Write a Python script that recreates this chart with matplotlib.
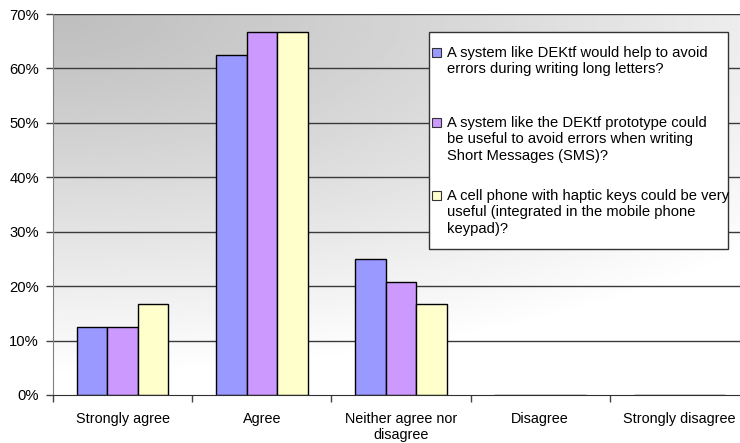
import numpy as np
import matplotlib
matplotlib.use("Agg")
import matplotlib.pyplot as plt
from matplotlib.patches import Rectangle

plt.rcParams['font.family'] = ['Liberation Sans', 'DejaVu Sans']

categories = ["Strongly agree", "Agree", "Neither agree nor\ndisagree",
              "Disagree", "Strongly disagree"]
series_labels = [
    "A system like DEKtf would help to avoid\nerrors during writing long letters?",
    "A system like the DEKtf prototype could\nbe useful to avoid errors when writing\nShort Messages (SMS)?",
    "A cell phone with haptic keys could be very\nuseful (integrated in the mobile phone\nkeypad)?",
]
long_letters = [12.5, 62.5, 25.0, 0.0, 0.0]
sms = [12.5, 66.67, 20.83, 0.0, 0.0]
haptic_keys = [16.67, 66.67, 16.67, 0.0, 0.0]
series_values = [long_letters, sms, haptic_keys]
series_colors = ["#9999FF", "#CC99FF", "#FFFFCC"]
y_ticks = [0, 10, 20, 30, 40, 50, 60, 70]

W, H = 740, 443
fig = plt.figure(figsize=(W / 100, H / 100), dpi=100)
fig.patch.set_facecolor("white")

x0, x1, y0, y1 = 53, 749, 395, 14
ax = fig.add_axes([x0 / W, (H - y0) / H, (x1 - x0) / W, (y0 - y1) / H])
ax.set_facecolor("white")

# soft grey gradient fading from the upper-left corner to white
gx, gy = np.meshgrid(np.linspace(0, 1, 300), np.linspace(0, 1, 200))
dist = np.sqrt((gx * 0.75) ** 2 + (gy * 1.05) ** 2)
shade = 0.745 + 0.255 * np.clip(dist, 0, 1) ** 1.1
ax.imshow(shade, cmap="gray", vmin=0, vmax=1, extent=[0, 1, 0, 1],
          origin="upper", transform=ax.transAxes, aspect="auto", zorder=0,
          interpolation="bilinear")

n_cat = len(categories)
x = np.arange(n_cat)
bw = 0.219
for i, (vals, col) in enumerate(zip(series_values, series_colors)):
    ax.bar(x + (i - 1) * bw, vals, width=bw, color=col, edgecolor="black",
           linewidth=1.0, zorder=3)

ax.set_xlim(-0.5, n_cat - 0.5)
ax.set_ylim(0, 70)
ax.set_yticks(y_ticks)
ax.set_yticklabels([f"{t}%" for t in y_ticks])
for t in y_ticks[1:]:
    ax.axhline(t, color="#3a3a3a", linewidth=1.0, zorder=1)

ax.set_xticks(np.arange(n_cat + 1) - 0.5)
ax.set_xticklabels([])
ax.set_xticks(x, minor=True)
ax.set_xticklabels(categories, minor=True, fontsize=10.4, linespacing=1.25)
ax.tick_params(axis="x", which="minor", length=0, pad=12)
ax.tick_params(axis="x", which="major", length=5, width=1, color="#444444",
               direction="out")
ax.tick_params(axis="y", length=5, width=1, color="#444444", pad=5,
               labelsize=10.6)

for side in ["top", "right"]:
    ax.spines[side].set_visible(False)
ax.spines["left"].set_color("#808080")
ax.spines["bottom"].set_color("#303030")
ax.spines["left"].set_zorder(4)
ax.spines["bottom"].set_zorder(4)

# legend box
lx0, lx1, ly0, ly1 = 429, 728, 32, 249
fig.patches.append(Rectangle((lx0 / W, (H - ly1) / H), (lx1 - lx0) / W,
                             (ly1 - ly0) / H, transform=fig.transFigure,
                             facecolor="white", edgecolor="#333333",
                             linewidth=1.0, zorder=5))
entry_tops = [46, 116, 189]
for lab, col, top in zip(series_labels, series_colors, entry_tops):
    fig.patches.append(Rectangle((432 / W, (H - (top + 11)) / H), 9 / W, 9 / H,
                                 transform=fig.transFigure, facecolor=col,
                                 edgecolor="#333333", linewidth=0.8, zorder=6))
    fig.text(447 / W, (H - top) / H, lab, fontsize=10.6, va="top", ha="left",
             linespacing=1.22, zorder=7)

fig.savefig("out.png", dpi=100)
